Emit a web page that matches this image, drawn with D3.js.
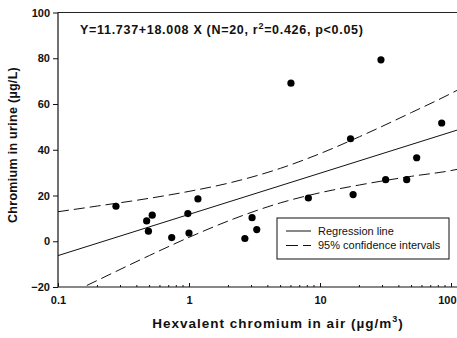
<!DOCTYPE html>
<html><head><meta charset="utf-8">
<script src="https://cdn.jsdelivr.net/npm/d3@7/dist/d3.min.js"></script>
<style>
html,body{margin:0;padding:0;background:#fff;}
svg{display:block;font-family:"Liberation Sans",Arial,sans-serif;}
</style></head><body>
<svg id="c" width="457" height="338"></svg>
<script>
// Data
const airCr = [0.277, 0.475, 0.49, 0.524, 0.738, 0.98, 1.0, 1.17, 2.67, 3.03, 3.29, 6.0, 8.15, 17.1, 17.9, 29.2, 31.7, 45.9, 54.7, 84.9];
const urineCr = [15.3, 8.9, 4.4, 11.4, 1.6, 12.1, 3.6, 18.5, 1.2, 10.3, 5.1, 69.1, 18.9, 44.8, 20.4, 79.3, 26.9, 26.9, 36.5, 51.7];
const intercept = 11.737, slope = 18.008;
const ciX = [0.1, 0.2, 0.5, 1, 2, 5, 10, 20, 50, 100, 115];
const ciUpper = [12.9, 15.4, 18.8, 21.8, 25.4, 31.9, 38.3, 45.7, 56.3, 64.6, 66.4];
const ciLower = [-25.4, -17.1, -6.2, 1.7, 8.9, 16.8, 21.2, 24.6, 28.4, 30.9, 31.6];
const lineX = [0.1, 115];
const yTicks = [-20, 0, 20, 40, 60, 80, 100];
const xTicks = [0.1, 1, 10, 100];
const xTickLabels = ["0.1", "1", "10", "100"];
const title = "Y=11.737+18.008 X (N=20, r";
const legendLabels = ["Regression line", "95% confidence intervals"];

const svg = d3.select("#c");
const L = 58, R = 451, T = 12.5, B = 287, RE = 460;
const x = d3.scaleLog().domain([0.1, 100]).range([L, R]);
const y = d3.scaleLinear().domain([-20, 100]).range([B, T]);

svg.append("defs").append("clipPath").attr("id","clip")
  .append("rect").attr("x", L).attr("y", T).attr("width", RE - L).attr("height", B - T);

const g = svg.append("g").attr("clip-path","url(#clip)");

// CI curves
const ln = d3.line().x((d,i)=>x(ciX[i])).curve(d3.curveMonotoneX);
g.append("path").attr("d", ln.y(d=>y(d))(ciUpper)).attr("fill","none").attr("stroke","#111").attr("stroke-width",1).attr("stroke-dasharray","11,5");
g.append("path").attr("d", ln.y(d=>y(d))(ciLower)).attr("fill","none").attr("stroke","#111").attr("stroke-width",1).attr("stroke-dasharray","11,5");
// Regression line
g.append("path").attr("d", d3.line().x(d=>x(d)).y(d=>y(intercept + slope*Math.log10(d)))(lineX))
  .attr("fill","none").attr("stroke","#111").attr("stroke-width",1);

// Points
g.selectAll("circle.p").data(airCr).enter().append("circle")
  .attr("cx", d=>x(d)).attr("cy", (d,i)=>y(urineCr[i])).attr("r", 3.6).attr("fill","#000");

// Frame
svg.append("line").attr("x1",L).attr("x2",RE).attr("y1",T).attr("y2",T).attr("stroke","#222").attr("stroke-width",1.2);
svg.append("line").attr("x1",L).attr("x2",RE).attr("y1",B).attr("y2",B).attr("stroke","#111").attr("stroke-width",1.2);
svg.append("line").attr("x1",L).attr("x2",L).attr("y1",T).attr("y2",B).attr("stroke","#111").attr("stroke-width",1.2);

// Y axis
const ya = svg.append("g").attr("transform",`translate(${L},0)`)
  .call(d3.axisLeft(y).tickValues(yTicks).tickSize(5).tickPadding(3));
ya.select(".domain").remove();
ya.selectAll("text").attr("font-size","11px").attr("font-family","Liberation Sans, Arial, sans-serif").attr("fill","#111").attr("font-weight","bold");
ya.selectAll("line").attr("stroke","#111");

// X axis with minor ticks
const minor = [];
for (let p = -1; p < 2; p++) for (let k = 2; k <= 9; k++) minor.push(k*Math.pow(10,p));
const xm = svg.append("g").attr("transform",`translate(0,${B})`);
xm.selectAll("line.mi").data(minor).enter().append("line")
  .attr("x1",d=>x(d)).attr("x2",d=>x(d)).attr("y1",-2).attr("y2",0).attr("stroke","#111");
const xa = svg.append("g").attr("transform",`translate(0,${B})`)
  .call(d3.axisBottom(x).tickValues(xTicks).tickFormat((d,i)=>xTickLabels[i]).tickSize(-4).tickPadding(9));
xa.select(".domain").remove();
xa.selectAll("text").attr("font-size","11px").attr("font-family","Liberation Sans, Arial, sans-serif").attr("fill","#111").attr("font-weight","bold");
xa.selectAll("text").filter((d,i)=>i===xTicks.length-1).attr("text-anchor","end").attr("dx","5");
xa.selectAll("line").attr("stroke","#111");

// Title / equation
const t = svg.append("text").attr("x", 80).attr("y", 34).attr("font-size","12.5px").attr("font-weight","bold").attr("fill","#111").attr("letter-spacing","0.7px");
t.append("tspan").text(title);
t.append("tspan").text("2").attr("font-size","9px").attr("dy",-5);
t.append("tspan").text("=0.426, p<0.05)").attr("dy",5);

// Axis titles
svg.append("text").attr("transform","translate(17,145) rotate(-90)").attr("text-anchor","middle")
  .attr("font-size","12.5px").attr("font-weight","bold").attr("fill","#111").attr("letter-spacing","0.3px").text("Chromium in urine (µg/L)");
const xl = svg.append("text").attr("x", 278).attr("y", 328).attr("text-anchor","middle")
  .attr("font-size","13.5px").attr("font-weight","bold").attr("fill","#111").attr("letter-spacing","1px");
xl.append("tspan").text("Hexvalent chromium in air (µg/m");
xl.append("tspan").text("3").attr("font-size","9px").attr("dy",-6);
xl.append("tspan").text(")").attr("dy",6);

// Legend
const lg = svg.append("g");
lg.append("rect").attr("x",277).attr("y",218).attr("width",172).attr("height",41).attr("fill","#fff").attr("stroke","#111").attr("stroke-width",1);
lg.append("line").attr("x1",286).attr("x2",311).attr("y1",231).attr("y2",231).attr("stroke","#111");
lg.append("line").attr("x1",286).attr("x2",311).attr("y1",245.5).attr("y2",245.5).attr("stroke","#111").attr("stroke-dasharray","12,5");
lg.selectAll("text.l").data(legendLabels).enter().append("text")
  .attr("x",318).attr("y",(d,i)=>234.5 + i*14.5).attr("font-size","11px").attr("fill","#111").text(d=>d);
</script>
</body></html>
